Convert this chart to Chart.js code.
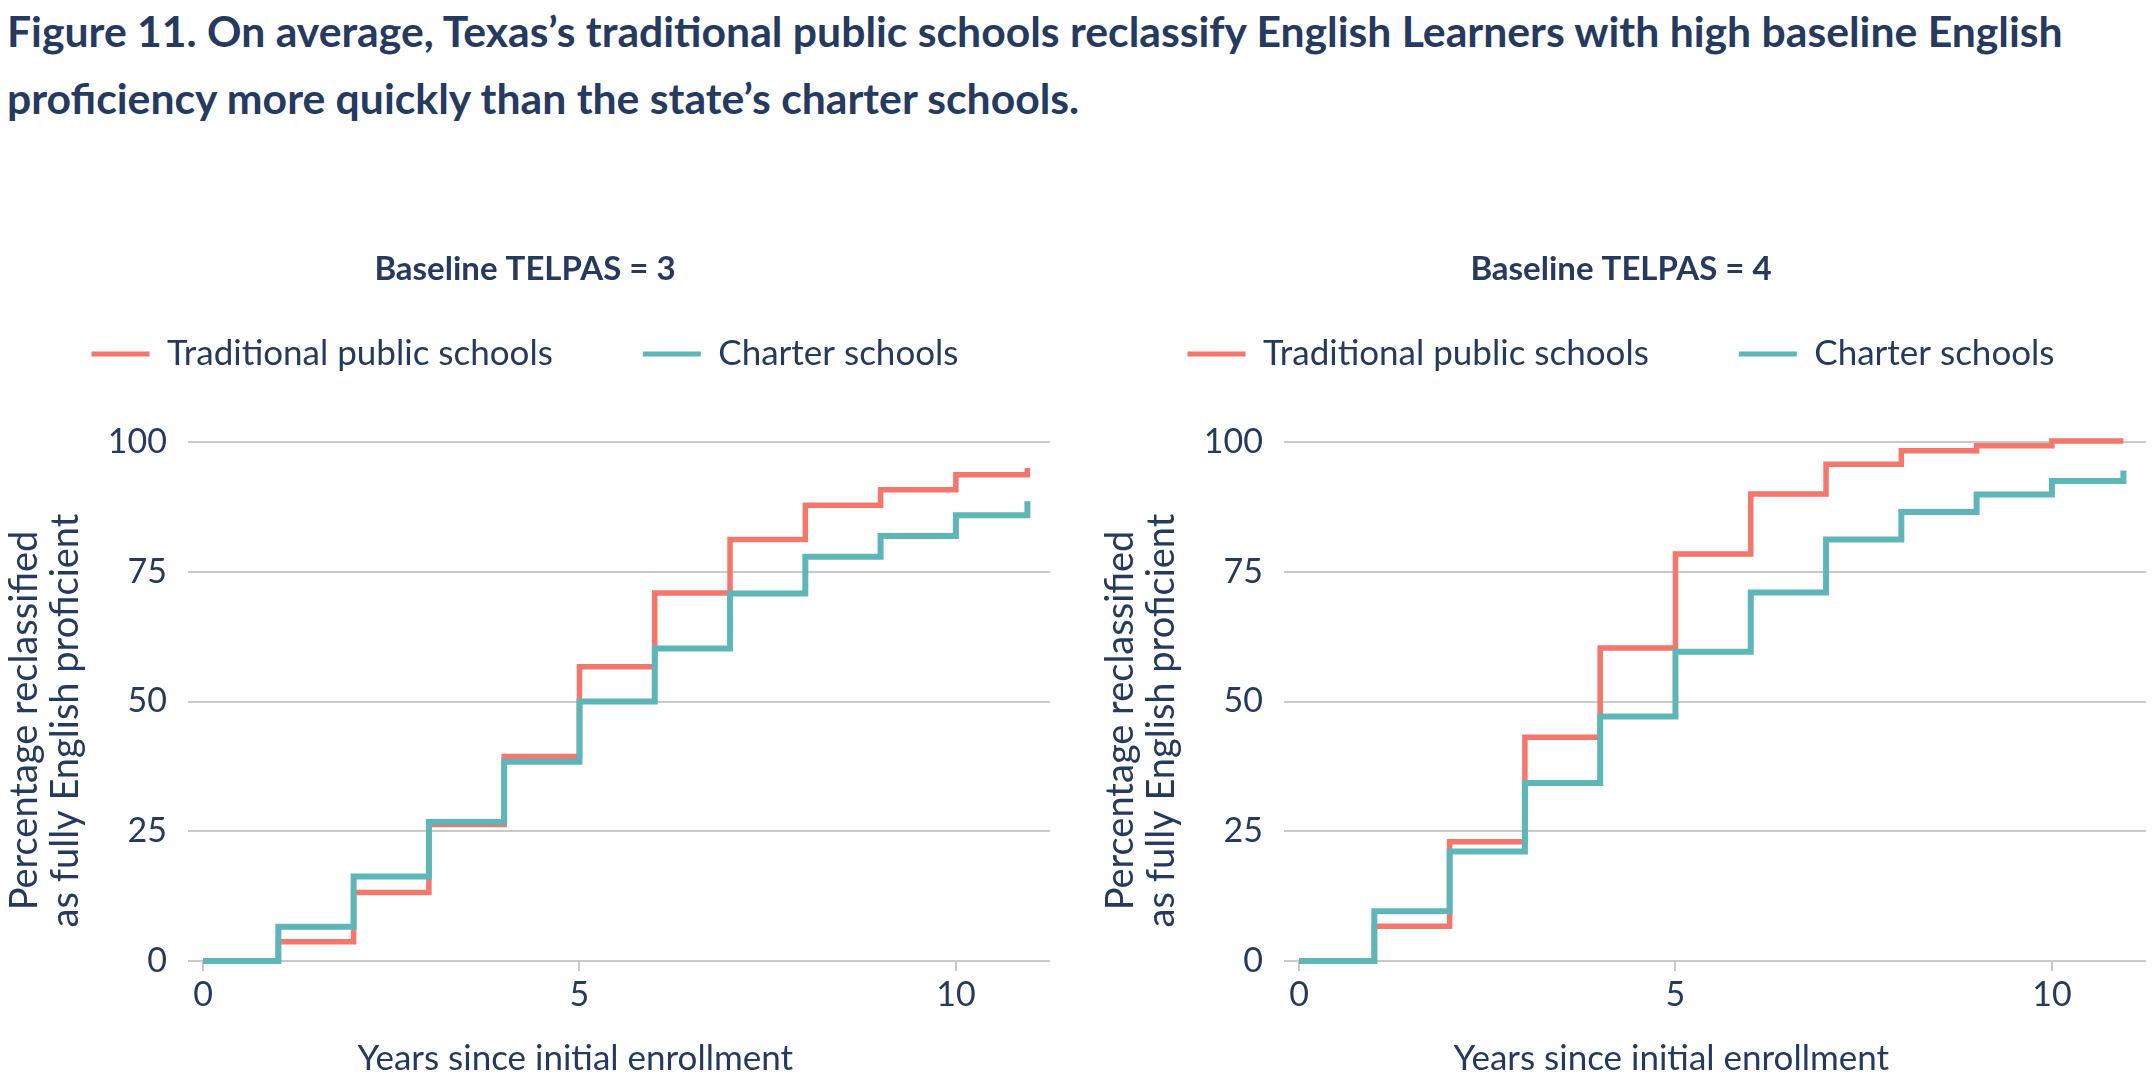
<!DOCTYPE html>
<html><head><meta charset="utf-8">
<script src="https://cdn.jsdelivr.net/npm/chart.js@4.4.1/dist/chart.umd.min.js"></script>
<style>
html,body{margin:0;padding:0;background:#fff;width:2152px;height:1077px;overflow:hidden;}
#title{position:absolute;left:7px;top:-3px;font-family:Lato,sans-serif;font-weight:bold;font-size:42.7px;line-height:67px;color:#253a5e;white-space:nowrap;}
canvas{position:absolute;}
</style></head><body>
<div id="title">Figure 11. On average, Texas’s traditional public schools reclassify English Learners with high baseline English<br>proficiency more quickly than the state’s charter schools.</div>
<canvas id="c1" width="1056" height="847" style="left:0;top:230px"></canvas>
<canvas id="c2" width="1056" height="847" style="left:1096px;top:230px"></canvas>
<script>
// ---- data ----
const years = [0, 1, 2, 3, 4, 5, 6, 7, 8, 9, 10, 10.95];
const tps3 = [0, 3.7, 13.2, 26.3, 39.4, 56.7, 70.9, 81.2, 87.8, 90.8, 93.7, 95.0];
const charter3 = [0, 6.6, 16.3, 26.8, 38.4, 50.0, 60.2, 70.8, 77.9, 81.9, 85.9, 88.6];
const tps4 = [0, 6.7, 23.0, 43.1, 60.3, 78.4, 90.0, 95.7, 98.3, 99.3, 100.2, 100.2];
const charter4 = [0, 9.6, 21.1, 34.3, 47.1, 59.6, 71.0, 81.2, 86.5, 89.9, 92.5, 94.5];
const seriesLabels = ['Traditional public schools', 'Charter schools'];
const panelTitles = ['Baseline TELPAS = 3', 'Baseline TELPAS = 4'];
const xTicks = [0, 5, 10];
const yTicks = [0, 25, 50, 75, 100];
const xTitle = 'Years since initial enrollment';
const yTitle = ['Percentage reclassified', 'as fully English proficient'];

// ---- styling ----
const FONT = 'Lato, sans-serif';
const NAVY = '#253a5e';
const RED = '#f3776c';
const TEAL = '#5fb6b9';
const GRID = '#c9c9c9';

// shift a centred axis title off-centre by padding one side with en spaces
function offsetText(text, px, size) {
  const ctx = document.createElement('canvas').getContext('2d');
  ctx.font = size + 'px ' + FONT;
  let pad = '';
  while (ctx.measureText(pad).width < px) pad += '\u2002';
  return text + pad;
}

const legendHeight = {
  id: 'legendHeight',
  beforeInit(chart) {
    const orig = chart.legend.fit;
    chart.legend.fit = function () {
      orig.call(this);
      this.height = 195.5;
    };
  }
};

function makeChart(id, heading, tps, charter) {
  const pts = arr => years.map((x, i) => ({ x: x, y: arr[i] }));
  return new Chart(document.getElementById(id), {
    type: 'line',
    data: {
      datasets: [
        { label: seriesLabels[0], data: pts(tps), borderColor: RED, backgroundColor: RED,
          borderWidth: 5.5, stepped: 'before', pointRadius: 0, order: 2, clip: false, fill: false },
        { label: seriesLabels[1], data: pts(charter), borderColor: TEAL, backgroundColor: TEAL,
          borderWidth: 6, stepped: 'before', pointRadius: 0, order: 1, clip: false, fill: false }
      ]
    },
    plugins: [legendHeight],
    options: {
      responsive: false,
      animation: false,
      layout: { padding: { left: 0, right: 6, top: 0, bottom: 0 } },
      plugins: {
        tooltip: { enabled: false },
        title: {
          display: true, text: heading, color: NAVY,
          font: { family: FONT, size: 33, weight: 'bold', lineHeight: 1.2 },
          padding: { top: 20, bottom: -43.1 }
        },
        legend: {
          display: true,
          labels: {
            color: NAVY,
            font: { family: FONT, size: 35 },
            boxWidth: 58, boxHeight: 5, padding: 90,
            sort: (a, b) => a.datasetIndex - b.datasetIndex,
            generateLabels: chart => Chart.defaults.plugins.legend.labels.generateLabels(chart)
              .map(l => Object.assign(l, { lineWidth: 0, fillStyle: l.strokeStyle }))
          }
        }
      },
      scales: {
        x: {
          type: 'linear', min: -0.2, max: 11.25,
          afterBuildTicks: s => { s.ticks = xTicks.map(v => ({ value: v })); },
          afterFit: s => { s.height = 116; },
          grid: { drawOnChartArea: false, drawTicks: true, tickLength: 10, color: GRID, lineWidth: 2 },
          border: { display: false },
          ticks: { color: NAVY, font: { family: FONT, size: 34 }, padding: 4, maxRotation: 0 },
          title: { display: true, text: offsetText(xTitle, 76, 35), color: NAVY, font: { family: FONT, size: 35, lineHeight: 1 }, padding: { top: 0, bottom: 1 } }
        },
        y: {
          min: 0, max: 100,
          afterBuildTicks: s => { s.ticks = yTicks.map(v => ({ value: v })); },
          afterFit: s => { s.width = 188; },
          grid: { color: GRID, lineWidth: 2, drawTicks: false },
          border: { display: false },
          ticks: { color: NAVY, font: { family: FONT, size: 34 }, padding: 21 },
          title: { display: true, text: yTitle.map(t => offsetText(t, 24, 38)), color: NAVY, font: { family: FONT, size: 38, lineHeight: 1.08 }, padding: { top: 4, bottom: 0 } }
        }
      }
    }
  });
}

makeChart('c1', panelTitles[0], tps3, charter3);
makeChart('c2', panelTitles[1], tps4, charter4);
</script>
</body></html>
